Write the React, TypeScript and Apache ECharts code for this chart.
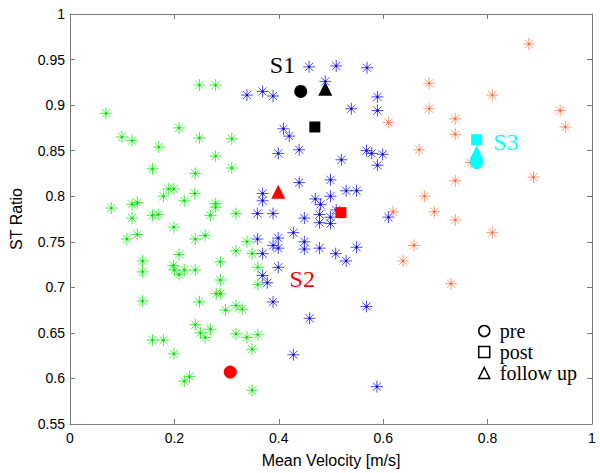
import React, { useEffect, useRef } from "react";
import * as echarts from "echarts";

// Mean velocity [m/s], ST ratio pairs
const greenPoints: [number, number][] = [
  [0.069, 0.891], [0.0995, 0.865], [0.119, 0.861], [0.209, 0.875], [0.248, 0.864],
  [0.31, 0.863], [0.17, 0.854], [0.279, 0.844], [0.158, 0.83], [0.31, 0.831],
  [0.24, 0.825], [0.189, 0.808], [0.199, 0.808], [0.179, 0.8], [0.239, 0.803],
  [0.219, 0.795], [0.079, 0.787], [0.119, 0.791], [0.129, 0.793], [0.279, 0.792],
  [0.279, 0.788], [0.119, 0.776], [0.158, 0.779], [0.169, 0.78], [0.269, 0.779],
  [0.318, 0.781], [0.199, 0.766], [0.109, 0.753], [0.129, 0.758], [0.24, 0.753],
  [0.259, 0.757], [0.339, 0.75], [0.318, 0.74], [0.349, 0.737], [0.139, 0.729],
  [0.209, 0.736], [0.288, 0.728], [0.139, 0.717], [0.198, 0.724], [0.2, 0.719],
  [0.209, 0.714], [0.219, 0.719], [0.24, 0.719], [0.36, 0.722], [0.288, 0.708],
  [0.36, 0.703], [0.139, 0.685], [0.28, 0.693], [0.288, 0.693], [0.248, 0.684],
  [0.298, 0.675], [0.318, 0.68], [0.33, 0.676], [0.24, 0.659], [0.25, 0.65],
  [0.259, 0.645], [0.269, 0.654], [0.318, 0.649], [0.339, 0.645], [0.36, 0.648],
  [0.158, 0.642], [0.179, 0.642], [0.199, 0.627], [0.349, 0.632], [0.219, 0.597],
  [0.229, 0.602], [0.349, 0.587], [0.248, 0.922], [0.279, 0.922],
];

const bluePoints: [number, number][] = [
  [0.458, 0.942], [0.51, 0.943], [0.569, 0.941], [0.339, 0.911], [0.369, 0.915],
  [0.389, 0.91], [0.489, 0.926], [0.589, 0.909], [0.539, 0.896], [0.589, 0.894],
  [0.409, 0.874], [0.42, 0.866], [0.439, 0.851], [0.399, 0.847], [0.568, 0.85],
  [0.578, 0.847], [0.599, 0.846], [0.589, 0.834], [0.52, 0.84], [0.439, 0.815],
  [0.499, 0.818], [0.369, 0.803], [0.369, 0.795], [0.47, 0.797], [0.48, 0.791],
  [0.499, 0.8], [0.529, 0.806], [0.549, 0.806], [0.359, 0.781], [0.389, 0.781],
  [0.449, 0.776], [0.478, 0.78], [0.478, 0.771], [0.499, 0.777], [0.499, 0.77],
  [0.61, 0.777], [0.428, 0.76], [0.359, 0.753], [0.399, 0.754], [0.389, 0.746],
  [0.399, 0.743], [0.449, 0.75], [0.449, 0.742], [0.478, 0.743], [0.549, 0.744],
  [0.509, 0.737], [0.529, 0.729], [0.369, 0.737], [0.399, 0.722], [0.369, 0.713],
  [0.378, 0.705], [0.389, 0.684], [0.459, 0.666], [0.568, 0.679], [0.428, 0.626],
  [0.588, 0.591], [0.51, 0.785],
];

const orangePoints: [number, number][] = [
  [0.879, 0.967], [0.688, 0.924], [0.809, 0.911], [0.688, 0.896], [0.939, 0.894],
  [0.949, 0.876], [0.61, 0.881], [0.738, 0.885], [0.738, 0.868], [0.669, 0.851],
  [0.768, 0.837], [0.888, 0.821], [0.738, 0.817], [0.679, 0.8], [0.619, 0.783],
  [0.698, 0.783], [0.738, 0.774], [0.809, 0.76], [0.659, 0.746], [0.638, 0.729],
  [0.73, 0.704],
];

// Subjects S1, S2, S3 at each time point
const subjectNames = ["S1", "S2", "S3"];
const subjectColors = ["#000000", "#ff0000", "#00ffff"];
const prePoints: [number, number][] = [[0.442, 0.915], [0.307, 0.607], [0.779, 0.837]];
const postPoints: [number, number][] = [[0.469, 0.876], [0.519, 0.782], [0.779, 0.862]];
const followPoints: [number, number][] = [[0.489, 0.918], [0.399, 0.805], [0.779, 0.848]];
const subjectLabelPos: [number, number][] = [[0.407, 0.944], [0.445, 0.709], [0.835, 0.859]];

const xTicks = { min: 0, max: 1, interval: 0.2 };
const yTicks = { min: 0.55, max: 1, interval: 0.05 };

const ASTERISK =
  "path://M5,0L5,10M0,5L10,5M1.6,1.6L8.4,8.4M1.6,8.4L8.4,1.6";

const AXIS_GRAY = "#7a7a7a";
const SANS = "Liberation Sans, Arial, sans-serif";
const SERIF = "Liberation Serif, Times New Roman, serif";

function starSeries(name: string, data: [number, number][], color: string) {
  return {
    name,
    type: "scatter",
    data,
    symbol: ASTERISK,
    symbolSize: 12,
    itemStyle: { color: "rgba(0,0,0,0)", borderColor: color, borderWidth: 1, opacity: 0.85 },
    z: 2,
  };
}

function dotSeries(name: string, data: [number, number][], color: string) {
  return {
    name,
    type: "scatter",
    data,
    symbol: "rect",
    symbolSize: 2,
    itemStyle: { color, opacity: 1 },
    z: 3,
    silent: true,
  };
}

function timeSeries(name: string, data: [number, number][], symbol: string, size: number) {
  return {
    name,
    type: "scatter",
    symbol,
    symbolSize: size,
    itemStyle: { opacity: 1 },
    data: data.map((p, i) => ({ value: p, itemStyle: { color: subjectColors[i], opacity: 1 } })),
    z: 5,
  };
}

export default function App() {
  const ref = useRef<HTMLDivElement>(null);
  useEffect(() => {
    if (!ref.current) return;
    const chart = echarts.init(ref.current, undefined, { renderer: "svg" });
    const fmt = (v: number) => String(+v.toFixed(2));
    const axisCommon = {
      axisLine: { show: true, onZero: false, lineStyle: { color: AXIS_GRAY, width: 1 } },
      axisTick: { show: true, inside: true, length: 5, lineStyle: { color: AXIS_GRAY } },
      splitLine: { show: false },
    };
    chart.setOption({
      animation: false,
      backgroundColor: "#ffffff",
      grid: { left: 66, right: 8, top: 14, bottom: 46, containLabel: false },
      xAxis: [
        {
          type: "value",
          position: "bottom",
          ...xTicks,
          ...axisCommon,
          axisLabel: { color: "#000", fontSize: 14, fontFamily: SANS, margin: 7, formatter: fmt },
          name: "Mean Velocity [m/s]",
          nameLocation: "middle",
          nameGap: 28,
          nameTextStyle: { color: "#000", fontSize: 16, fontFamily: SANS, verticalAlign: "top" },
        },
        {
          type: "value",
          position: "top",
          ...xTicks,
          ...axisCommon,
          axisLabel: { show: false },
        },
      ],
      yAxis: [
        {
          type: "value",
          position: "left",
          ...yTicks,
          ...axisCommon,
          axisLabel: { color: "#000", fontSize: 14, fontFamily: SANS, margin: 5, formatter: fmt },
          name: "ST Ratio",
          nameLocation: "middle",
          nameGap: 46,
          nameTextStyle: { color: "#000", fontSize: 16, fontFamily: SANS },
        },
        {
          type: "value",
          position: "right",
          ...yTicks,
          ...axisCommon,
          axisLabel: { show: false },
        },
      ],
      legend: {
        orient: "vertical",
        left: 473,
        top: 316,
        itemWidth: 11,
        itemHeight: 11,
        itemGap: 1,
        selectedMode: false,
        textStyle: { color: "#000", fontSize: 20, fontFamily: SERIF, lineHeight: 20, padding: [0, 0, 0, 5] },
        data: [
          { name: "pre", icon: "circle", itemStyle: { color: "rgba(0,0,0,0)", borderColor: "#000", borderWidth: 1.5 } },
          { name: "post", icon: "rect", itemStyle: { color: "rgba(0,0,0,0)", borderColor: "#000", borderWidth: 1.5 } },
          { name: "follow up", icon: "triangle", itemStyle: { color: "rgba(0,0,0,0)", borderColor: "#000", borderWidth: 1.5 } },
        ],
      },
      series: [
        starSeries("group1", greenPoints, "#22ee22"),
        dotSeries("group1dot", greenPoints, "#11cc11"),
        starSeries("group2", bluePoints, "#2a2aff"),
        dotSeries("group2dot", bluePoints, "#0000cc"),
        starSeries("group3", orangePoints, "#ff8855"),
        dotSeries("group3dot", orangePoints, "#ee6633"),
        timeSeries("pre", prePoints, "circle", 13),
        timeSeries("post", postPoints, "rect", 11),
        timeSeries("follow up", followPoints, "triangle", 14),
        {
          name: "subjects",
          type: "scatter",
          symbolSize: 0,
          silent: true,
          itemStyle: { opacity: 1 },
          data: subjectLabelPos.map((p, i) => ({
            value: p,
            name: subjectNames[i],
            label: {
              show: true,
              position: "inside",
              formatter: subjectNames[i],
              color: subjectColors[i],
              opacity: 1,
              fontSize: 24,
              fontFamily: SERIF,
            },
          })),
          z: 6,
        },
      ],
    });
    return () => chart.dispose();
  }, []);
  return (
    <div
      ref={ref}
      style={{ position: "absolute", left: 0, top: 0, width: 600, height: 473, background: "#fff" }}
    />
  );
}
